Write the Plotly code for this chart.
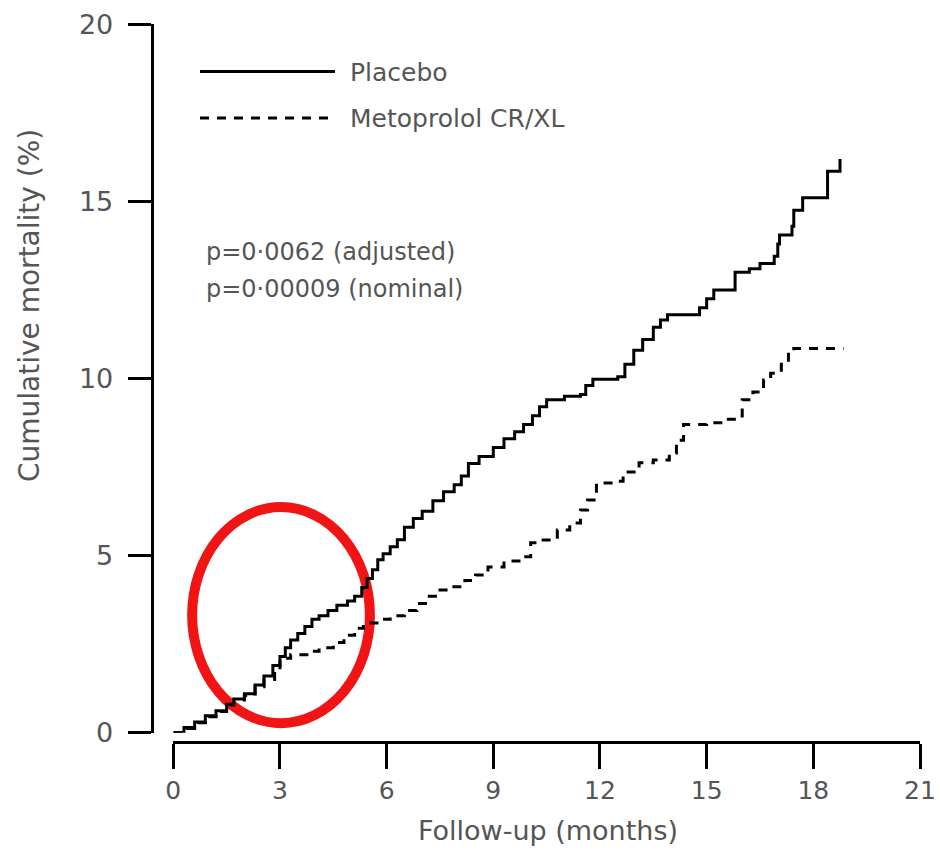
import plotly.graph_objects as go

# ---------------- data ----------------
placebo_months = [0, 0.3, 0.6, 0.9, 1.2, 1.5, 1.7, 2.0, 2.3, 2.55, 2.8, 3.0, 3.15, 3.3, 3.5, 3.7,
                  3.9, 4.1, 4.35, 4.6, 4.9, 5.1, 5.3, 5.45, 5.6, 5.75, 5.9, 6.1, 6.3, 6.5, 6.75,
                  7.0, 7.3, 7.6, 7.9, 8.1, 8.3, 8.6, 9.0, 9.3, 9.6, 9.85, 10.1, 10.3, 10.5, 11.0,
                  11.45, 11.6, 11.8, 12.5, 12.7, 12.95, 13.2, 13.5, 13.7, 13.9, 14.8, 15.0, 15.2,
                  15.8, 16.2, 16.5, 16.9, 17.0, 17.05, 17.4, 17.45, 17.7, 18.4, 18.75]
placebo_mortality = [0, 0.15, 0.3, 0.48, 0.62, 0.8, 0.95, 1.1, 1.35, 1.6, 1.9, 2.15, 2.4, 2.62, 2.8, 3.0,
                     3.2, 3.3, 3.45, 3.6, 3.72, 3.85, 4.1, 4.35, 4.6, 4.88, 5.05, 5.25, 5.45, 5.8, 6.05,
                     6.25, 6.55, 6.8, 7.0, 7.25, 7.6, 7.8, 8.05, 8.3, 8.5, 8.7, 8.95, 9.2, 9.4, 9.5,
                     9.55, 9.8, 9.98, 10.05, 10.4, 10.8, 11.1, 11.45, 11.65, 11.8, 12.0, 12.25, 12.5,
                     13.0, 13.1, 13.25, 13.45, 13.8, 14.05, 14.3, 14.75, 15.1, 15.85, 16.2]

meto_months = [0, 0.3, 0.6, 0.9, 1.2, 1.5, 1.7, 2.0, 2.3, 2.55, 2.85, 3.0, 3.3, 3.8, 4.1, 4.5,
               4.8, 5.1, 5.35, 5.8, 6.1, 6.5, 6.85, 7.2, 7.5, 7.8, 8.2, 8.5, 8.85, 9.3, 9.8,
               10.05, 10.4, 10.8, 11.15, 11.45, 11.65, 11.9, 12.4, 12.65, 13.1, 13.5, 13.95,
               14.15, 14.35, 15.0, 15.5, 16.0, 16.3, 16.6, 16.8, 17.1, 17.3, 17.45, 18.85]
meto_mortality = [0, 0.12, 0.28, 0.45, 0.6, 0.78, 0.92, 1.05, 1.3, 1.5, 1.75, 2.1, 2.2, 2.3, 2.4, 2.55,
                  2.75, 2.95, 3.1, 3.2, 3.3, 3.45, 3.65, 3.85, 4.03, 4.12, 4.3, 4.45, 4.68, 4.85, 4.97,
                  5.36, 5.44, 5.72, 5.92, 6.29, 6.57, 7.05, 7.1, 7.36, 7.62, 7.7, 7.9,
                  8.26, 8.7, 8.75, 8.85, 9.4, 9.62, 9.96, 10.15, 10.45, 10.75, 10.85, 10.85]

x_ticks = [0, 3, 6, 9, 12, 15, 18, 21]
y_ticks = [0, 5, 10, 15, 20]
series_names = ["Placebo", "Metoprolol CR/XL"]
p_texts = ["p=0·0062 (adjusted)", "p=0·00009 (nominal)"]

# ---------------- layout helpers ----------------
W, H = 940, 852
FONT = "DejaVu Sans"
GREY = "#555555"

def px_x(p):
    return p / W

def px_y(p):
    return 1 - p / H

fig = go.Figure()
fig.add_trace(go.Scatter(
    x=meto_months, y=meto_mortality, mode="lines", name=series_names[1],
    line=dict(color="black", width=3, dash="9px,8px", shape="hv"), showlegend=False))
fig.add_trace(go.Scatter(
    x=placebo_months, y=placebo_mortality, mode="lines", name=series_names[0],
    line=dict(color="black", width=3, shape="hv"), showlegend=False))

fig.update_layout(
    width=W, height=H,
    margin=dict(l=0, r=0, t=0, b=0),
    paper_bgcolor="white", plot_bgcolor="white",
    font=dict(family=FONT, color=GREY),
    showlegend=False,
    xaxis=dict(
        domain=[px_x(173.3), px_x(920)], range=[0, 21],
        anchor="free", position=px_y(742),
        tickmode="array", tickvals=x_ticks, ticktext=[str(t) for t in x_ticks],
        ticks="outside", ticklen=25, tickwidth=3, tickcolor="black",
        showline=True, linewidth=3, linecolor="black",
        showgrid=False, zeroline=False, automargin=False,
        tickfont=dict(family=FONT, size=25, color=GREY), ticklabelstandoff=0,
    ),
    yaxis=dict(
        domain=[px_y(732.7), px_y(24.3)], range=[0, 20],
        anchor="free", position=px_x(151.7),
        tickmode="array", tickvals=y_ticks, ticktext=[str(t) for t in y_ticks],
        ticks="outside", ticklen=23, tickwidth=3, tickcolor="black",
        showline=True, linewidth=3, linecolor="black",
        showgrid=False, zeroline=False, automargin=False,
        tickfont=dict(family=FONT, size=27, color=GREY), ticklabelstandoff=9,
    ),
)

# legend samples
fig.add_shape(type="line", xref="paper", yref="paper",
              x0=px_x(200), x1=px_x(335), y0=px_y(71.5), y1=px_y(71.5),
              line=dict(color="black", width=3))
fig.add_shape(type="line", xref="paper", yref="paper",
              x0=px_x(200), x1=px_x(335), y0=px_y(118), y1=px_y(118),
              line=dict(color="black", width=3, dash="9px,8px"))
fig.add_annotation(text=series_names[0], xref="paper", yref="paper",
                   x=px_x(348), y=px_y(72), xanchor="left", yanchor="middle",
                   showarrow=False, font=dict(family=FONT, size=25, color=GREY))
fig.add_annotation(text=series_names[1], xref="paper", yref="paper",
                   x=px_x(348), y=px_y(118), xanchor="left", yanchor="middle",
                   showarrow=False, font=dict(family=FONT, size=25, color=GREY))

# p-values
for txt, yp in zip(p_texts, [252, 289]):
    fig.add_annotation(text=txt, xref="paper", yref="paper",
                       x=px_x(204), y=px_y(yp), xanchor="left", yanchor="middle",
                       showarrow=False, font=dict(family=FONT, size=24, color=GREY))

# axis titles
fig.add_annotation(text="Follow-up (months)", xref="paper", yref="paper",
                   x=px_x(548), y=px_y(830), xanchor="center", yanchor="middle",
                   showarrow=False, font=dict(family=FONT, size=27, color=GREY))
fig.add_annotation(text="Cumulative mortality (%)", xref="paper", yref="paper",
                   x=px_x(30), y=px_y(306), xanchor="center", yanchor="middle",
                   textangle=-90, showarrow=False,
                   font=dict(family=FONT, size=28, color=GREY))

# red highlight ellipse
fig.add_shape(type="circle", xref="x", yref="y",
              x0=0.53, x1=5.53, y0=0.27, y1=6.37, layer="below",
              line=dict(color="rgb(240,20,20)", width=10))

fig.write_html("out.html",
               config={"displayModeBar": False},
               post_script="document.body.style.margin='0';document.body.style.overflow='hidden';")
